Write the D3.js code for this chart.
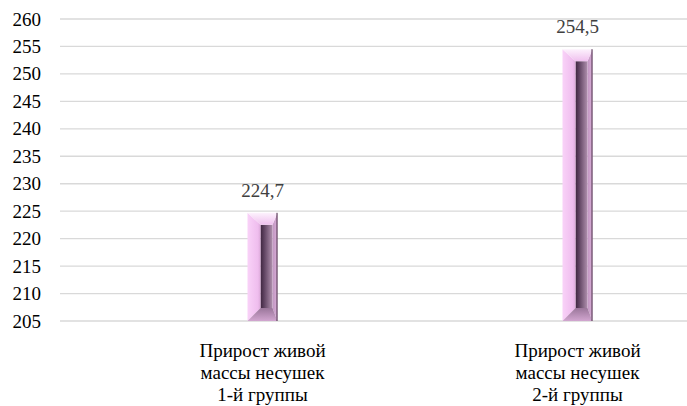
<!DOCTYPE html>
<html><head><meta charset="utf-8">
<script src="https://cdn.jsdelivr.net/npm/d3@7"></script>
<style>body{margin:0;background:#fff}svg{display:block}</style>
</head><body>
<svg id="c" width="687" height="406"></svg>
<script>
const categories = [["Прирост живой","массы несушек","1-й группы"],["Прирост живой","массы несушек","2-й группы"]];
const values = [224.7, 254.5];
const valueLabels = ["224,7", "254,5"];
const tickValues = [205,210,215,220,225,230,235,240,245,250,255,260];

const FONT = "Liberation Serif";
const svg = d3.select("#c");
const gridLeft = 60, gridRight = 687;
const y = d3.scaleLinear().domain([205, 260]).range([321, 19]);
const x = d3.scaleBand().domain(d3.range(categories.length)).range([105, 735]).paddingInner(0).paddingOuter(0);
const barW = 30;

const defs = svg.append("defs");
function lg(id, horiz, stops) {
  const g = defs.append("linearGradient").attr("id", id)
    .attr("x1","0").attr("y1","0").attr("x2", horiz ? "1" : "0").attr("y2", horiz ? "0" : "1");
  stops.forEach(s => g.append("stop").attr("offset", s[0]).attr("stop-color", s[1]));
}
lg("face", true, [[0,"#3f2640"],[0.3,"#5e4260"],[1,"#b090ae"]]);
lg("lft", true, [[0,"#f9d2f8"],[0.8,"#efbdee"],[1,"#dcaada"]]);
lg("top", false, [[0,"#fdf2fd"],[1,"#efc0ee"]]);
lg("rgt", true, [[0,"#c095c0"],[1,"#dcb0db"]]);
lg("bot", false, [[0,"#9a769a"],[1,"#d2a6d0"]]);

// grid
svg.append("g").selectAll("line").data(tickValues).join("line")
  .attr("x1", gridLeft).attr("x2", gridRight)
  .attr("y1", d => y(d)).attr("y2", d => y(d))
  .attr("stroke", "#d9d9d9").attr("stroke-width", 1.3);
svg.append("g").selectAll("text").data(tickValues).join("text")
  .attr("x", 41).attr("y", d => y(d) + 6.5)
  .attr("text-anchor", "end")
  .attr("font-family", FONT).attr("font-size", 19).attr("fill", "#000")
  .text(d => d);

// bars
const bars = svg.selectAll("g.bar").data(values).join("g").attr("class","bar");
bars.each(function(v, i) {
  const g = d3.select(this);
  const cx = x(i) + x.bandwidth()/2;
  const x0 = cx - barW/2, x1 = cx + barW/2;
  const yt = y(v), yb = y(205);
  const bL = 13, bR = 5, bT = 12, bB = 13;
  const pts = a => a.map(p => p.join(",")).join(" ");
  g.append("rect").attr("x", x0+bL).attr("y", yt+bT).attr("width", barW-bL-bR).attr("height", yb-yt-bT-bB).attr("fill","url(#face)");
  g.append("polygon").attr("points", pts([[x0,yt],[x0+bL,yt+bT],[x0+bL,yb-bB],[x0,yb]])).attr("fill","url(#lft)");
  g.append("polygon").attr("points", pts([[x1,yt],[x1,yb],[x1-bR,yb-bB],[x1-bR,yt+bT]])).attr("fill","url(#rgt)");
  g.append("polygon").attr("points", pts([[x0,yb],[x1,yb],[x1-bR,yb-bB],[x0+bL,yb-bB]])).attr("fill","url(#bot)");
  g.append("polygon").attr("points", pts([[x0,yt],[x1,yt],[x1-bR,yt+bT],[x0+bL,yt+bT]])).attr("fill","url(#top)");
  g.append("line").attr("x1", x1-0.5).attr("x2", x1-0.5).attr("y1", yt).attr("y2", yb).attr("stroke","#4a3048").attr("stroke-width",1);
  g.append("text").attr("x", cx).attr("y", yt - 16)
    .attr("text-anchor","middle")
    .attr("font-family", FONT).attr("font-size", 19).attr("fill", "#404040")
    .text(valueLabels[i]);
});

// category labels
const cats = svg.selectAll("g.cat").data(categories).join("g").attr("class","cat");
cats.each(function(lines, i) {
  const cx = x(i) + x.bandwidth()/2;
  d3.select(this).selectAll("text").data(lines).join("text")
    .attr("x", cx).attr("y", (d, j) => 357 + j*22)
    .attr("text-anchor","middle")
    .attr("font-family", FONT).attr("font-size", 19).attr("fill", "#000")
    .text(d => d);
});
</script>
</body></html>
